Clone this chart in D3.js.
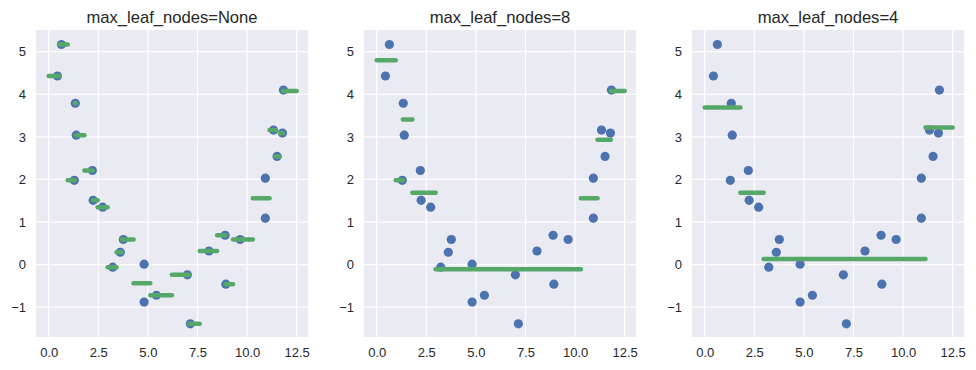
<!DOCTYPE html>
<html>
<head>
<meta charset="utf-8">
<script src="https://cdn.jsdelivr.net/npm/d3@7"></script>
<style>
    body { margin: 0; background: #fff; }
    text { font-family: "Liberation Sans", Arial, sans-serif; fill: #262626; }
</style>
</head>
<body>
<svg id="graph"></svg>
<script>
// training points (same in every panel)
var pointX = [0.44, 0.64, 1.29, 1.34, 1.39, 2.20, 2.24, 2.72, 3.23, 3.61, 3.76, 4.81, 4.81,
              5.43, 6.99, 7.14, 8.08, 8.89, 8.93, 9.65, 10.92, 10.92, 11.33, 11.51, 11.78, 11.83];
var pointY = [4.43, 5.17, 1.98, 3.79, 3.04, 2.21, 1.51, 1.35, -0.06, 0.29, 0.59, 0.01, -0.88,
              -0.72, -0.24, -1.39, 0.32, 0.69, -0.46, 0.59, 2.03, 1.09, 3.16, 2.54, 3.09, 4.10];

var titles = ["max_leaf_nodes=None", "max_leaf_nodes=8", "max_leaf_nodes=4"];
var xTicks = [0, 2.5, 5, 7.5, 10, 12.5];
var yTicks = [-1, 0, 1, 2, 3, 4, 5];

// tree predictions: [from x, to x, predicted y]
var stepsNone = [
    [0, 0.54, 4.43], [0.54, 0.96, 5.17], [0.96, 1.32, 1.98], [1.32, 1.37, 3.79],
    [1.37, 1.80, 3.04], [1.80, 2.22, 2.21], [2.22, 2.47, 1.51], [2.47, 2.97, 1.35],
    [2.97, 3.42, -0.06], [3.42, 3.69, 0.29], [3.69, 4.28, 0.59], [4.28, 5.12, -0.44],
    [5.12, 6.21, -0.72], [6.21, 7.07, -0.24], [7.07, 7.61, -1.39], [7.61, 8.49, 0.32],
    [8.49, 8.91, 0.69], [8.91, 9.29, -0.46], [9.29, 10.29, 0.59], [10.29, 11.13, 1.56],
    [11.13, 11.42, 3.16], [11.42, 11.65, 2.54], [11.65, 11.80, 3.09], [11.80, 12.50, 4.08]
];
var steps8 = [
    [0, 0.96, 4.80], [0.96, 1.32, 1.98], [1.32, 1.80, 3.41], [1.80, 2.97, 1.69],
    [2.97, 10.29, -0.11], [10.29, 11.13, 1.56], [11.13, 11.80, 2.93], [11.80, 12.50, 4.08]
];
var steps4 = [
    [0, 1.80, 3.69], [1.80, 2.97, 1.69], [2.97, 11.13, 0.13], [11.13, 12.50, 3.22]
];

var stepSets = [stepsNone, steps8, steps4];
var lefts = [36, 364, 692];
var plotTop = 30, w = 272, h = 307;

var svg = d3.select("#graph")
    .attr("width", 976)
    .attr("height", 370);

var x = d3.scaleLinear().domain([-0.64, 13.07]).range([0, w]);
var y = d3.scaleLinear().domain([-1.70, 5.51]).range([h, 0]);

var points = pointX.map(function(d, i) { return {x: d, y: pointY[i]}; });

titles.forEach(function(title, p) {
    var g = svg.append("g")
        .attr("transform", "translate(" + lefts[p] + "," + plotTop + ")");

    // background + grid
    g.append("rect")
        .attr("width", w)
        .attr("height", h)
        .attr("fill", "#eaeaf2");
    g.selectAll(".gx").data(xTicks).enter().append("line")
        .attr("x1", x).attr("x2", x)
        .attr("y1", 0).attr("y2", h)
        .attr("stroke", "#fff").attr("stroke-width", 1.2);
    g.selectAll(".gy").data(yTicks).enter().append("line")
        .attr("y1", y).attr("y2", y)
        .attr("x1", 0).attr("x2", w)
        .attr("stroke", "#fff").attr("stroke-width", 1.2);

    // axes, no lines, just labels
    var ax = g.append("g")
        .attr("transform", "translate(0," + h + ")")
        .call(d3.axisBottom(x).tickValues(xTicks).tickFormat(d3.format(".1f"))
            .tickSize(0).tickPadding(11));
    var ay = g.append("g")
        .call(d3.axisLeft(y).tickValues(yTicks).tickFormat(d3.format("d"))
            .tickSize(0).tickPadding(10));
    [ax, ay].forEach(function(a) {
        a.select(".domain").remove();
        a.selectAll("text")
            .attr("fill", "#262626")
            .style("font-size", "13px")
            .style("font-family", '"Liberation Sans", Arial, sans-serif');
    });

    // data points
    g.selectAll("circle").data(points).enter().append("circle")
        .attr("cx", function(d) { return x(d.x); })
        .attr("cy", function(d) { return y(d.y); })
        .attr("r", 4.6)
        .attr("fill", "#4c72b0");

    // predicted steps
    g.selectAll(".step").data(stepSets[p]).enter().append("line")
        .attr("x1", function(d) { return x(d[0]); })
        .attr("x2", function(d) { return x(d[1]); })
        .attr("y1", function(d) { return y(d[2]); })
        .attr("y2", function(d) { return y(d[2]); })
        .attr("stroke", "#55a868")
        .attr("stroke-width", 4.5)
        .attr("stroke-linecap", "round");

    g.append("text")
        .attr("x", w / 2)
        .attr("y", 22.5 - plotTop)
        .attr("text-anchor", "middle")
        .style("font-size", "16.6px")
        .text(title);
});
</script>
</body>
</html>
